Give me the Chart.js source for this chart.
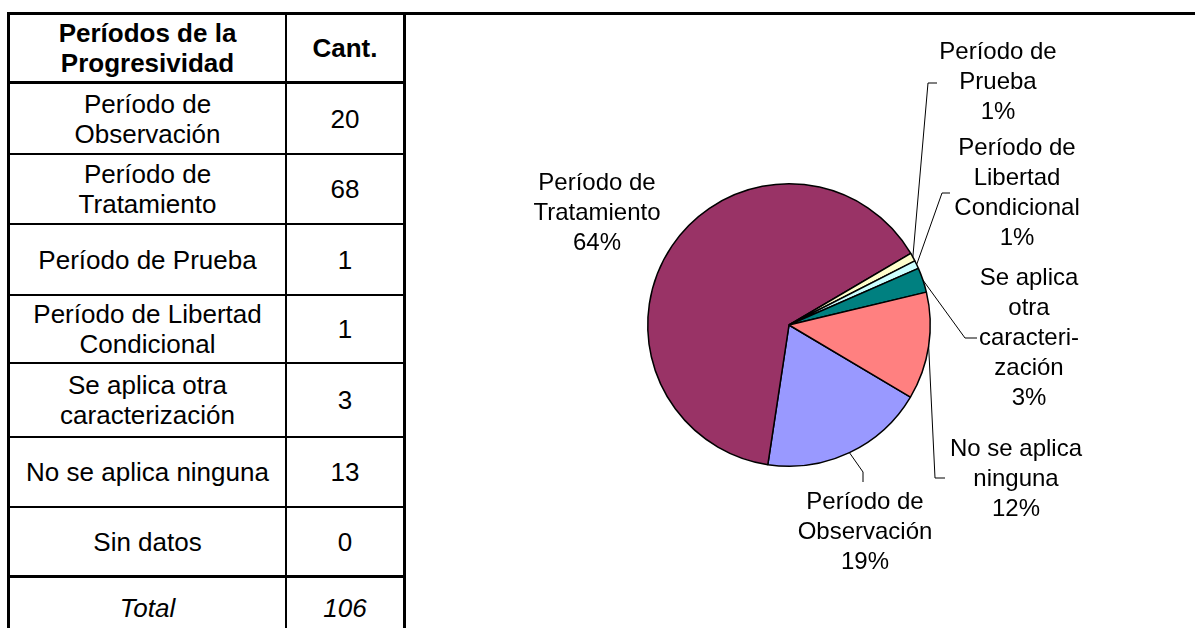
<!DOCTYPE html>
<html>
<head>
<meta charset="utf-8">
<script src="https://cdn.jsdelivr.net/npm/chart.js@4"></script>
<style>
  html, body { margin:0; padding:0; background:#fff; width:1195px; height:628px; overflow:hidden;
    font-family:"Liberation Sans", Arial, sans-serif; color:#000; }
  .topline { position:absolute; left:7px; top:12px; width:1188px; height:3px; background:#000; }
  /* table drawn as a grid of cells */
  .tbl { position:absolute; left:7px; top:12px; width:399px; box-sizing:border-box;
    border:3px solid #000; border-bottom:none; display:grid;
    grid-template-columns:277px 116px;
    grid-template-rows:69px 71px 70px 71px 68px 74px 70px 70px 60px; }
  .tbl div { box-sizing:border-box; display:flex; align-items:center; justify-content:center;
    text-align:center; font-size:26px; line-height:30px; padding:0 10px; border-bottom:2px solid #000; }
  .tbl div.c1 { border-right:2px solid #000; }
  .tbl div.head { font-weight:bold; border-bottom-width:3px; }
  .tbl div.last { border-bottom-width:3px; }
  .tbl div.total { font-style:italic; border-bottom:none; }
  #pie { position:absolute; left:407px; top:15px; }
</style>
</head>
<body>
<div class="topline"></div>
<div class="tbl" id="tbl"></div>
<canvas id="pie" width="788" height="613"></canvas>

<script>
// data
const categories = ['Período de Observación', 'Período de Tratamiento', 'Período de Prueba',
  'Período de Libertad Condicional', 'Se aplica otra caracterización', 'No se aplica ninguna', 'Sin datos'];
const counts = [20, 68, 1, 1, 3, 13, 0];
const headers = ['Períodos de la Progresividad', 'Cant.'];
const totalLabel = 'Total';
// how the pie labels are broken into lines
const pieLabelLines = [
  ['Período de', 'Observación'],
  ['Período de', 'Tratamiento'],
  ['Período de', 'Prueba'],
  ['Período de', 'Libertad', 'Condicional'],
  ['Se aplica', 'otra', 'caracteri-', 'zación'],
  ['No se aplica', 'ninguna'],
  ['Sin datos']
];
const sliceColors = ['#9999FF', '#993366', '#FFFFCC', '#CCFFFF', '#008080', '#FF8080', '#000080'];

// label placement relative to the pie centre (px)
const labelPlaces = [
  { at:[76, 177],   leader:[[74, 147], [74, 157]] },
  { at:[-192, -142] },
  { at:[209, -273], leader:[[139, -242], [148, -242]] },
  { at:[228, -177], leader:[[153, -132], [161, -132]] },
  { at:[240, -47],  leader:[[176, 13], [188, 13]] },
  { at:[227, 124],  leader:[[146, 153], [156, 153]] },
  null
];

/* build the table */
(function buildTable(){
  const tbl = document.getElementById('tbl');
  const cell = (txt, cls) => {
    const d = document.createElement('div');
    d.className = cls;
    d.textContent = txt;
    tbl.appendChild(d);
  };
  cell(headers[0], 'c1 head');
  cell(headers[1], 'head');
  categories.forEach((c, i) => {
    const extra = i === categories.length - 1 ? ' last' : '';
    cell(c, 'c1' + extra);
    cell(String(counts[i]), extra.trim());
  });
  const total = counts.reduce((a, b) => a + b, 0);
  cell(totalLabel, 'c1 total');
  cell(String(total), 'total');
})();

/* labels with leader lines, drawn from the arc geometry */
const pieLabels = {
  id: 'pieLabels',
  afterDatasetsDraw(chart) {
    const ctx = chart.ctx;
    const meta = chart.getDatasetMeta(0);
    const total = counts.reduce((a, b) => a + b, 0);
    ctx.save();
    ctx.font = '24px "Liberation Sans", Arial, sans-serif';
    ctx.fillStyle = '#000';
    ctx.textAlign = 'center';
    ctx.textBaseline = 'middle';
    ctx.strokeStyle = '#000';
    ctx.lineWidth = 1;
    meta.data.forEach((arc, i) => {
      const place = labelPlaces[i];
      if (!place || counts[i] === 0) return;
      const p = arc.getProps(['x', 'y', 'startAngle', 'endAngle', 'outerRadius'], true);
      const mid = (p.startAngle + p.endAngle) / 2;
      if (place.leader) {
        ctx.beginPath();
        ctx.moveTo(p.x + Math.cos(mid) * p.outerRadius, p.y + Math.sin(mid) * p.outerRadius);
        place.leader.forEach(pt => ctx.lineTo(p.x + pt[0], p.y + pt[1]));
        ctx.stroke();
      }
      const lines = pieLabelLines[i].concat(Math.round(counts[i] / total * 100) + '%');
      lines.forEach((t, k) => ctx.fillText(t, p.x + place.at[0], p.y + place.at[1] + k * 30));
    });
    ctx.restore();
  }
};

document.addEventListener('DOMContentLoaded', () => {
  new Chart(document.getElementById('pie'), {
    type: 'pie',
    data: {
      labels: categories,
      datasets: [{
        data: counts,
        backgroundColor: sliceColors,
        borderColor: '#000',
        borderWidth: 1.5
      }]
    },
    options: {
      responsive: false,
      animation: false,
      rotation: 120.7,
      layout: { padding: { left: 240, right: 264, top: 168, bottom: 161 } },
      plugins: { legend: { display: false }, tooltip: { enabled: false } }
    },
    plugins: [pieLabels]
  });
});
</script>
</body>
</html>
